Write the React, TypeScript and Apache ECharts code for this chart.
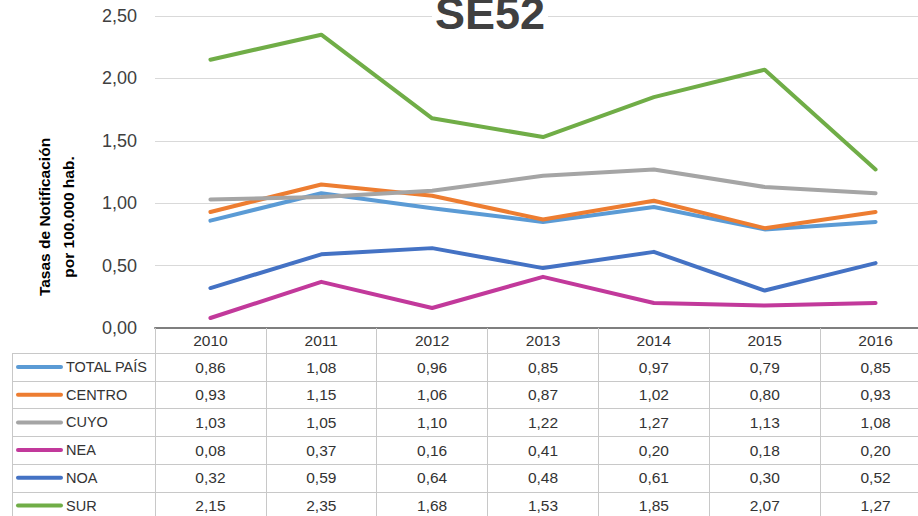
import React, { useEffect, useRef } from "react";
import * as echarts from "echarts";

const years = ["2010", "2011", "2012", "2013", "2014", "2015", "2016"];
const seriesNames = ["TOTAL PAÍS", "CENTRO", "CUYO", "NEA", "NOA", "SUR"];
const totalPais = [0.86, 1.08, 0.96, 0.85, 0.97, 0.79, 0.85];
const centro = [0.93, 1.15, 1.06, 0.87, 1.02, 0.8, 0.93];
const cuyo = [1.03, 1.05, 1.1, 1.22, 1.27, 1.13, 1.08];
const nea = [0.08, 0.37, 0.16, 0.41, 0.2, 0.18, 0.2];
const noa = [0.32, 0.59, 0.64, 0.48, 0.61, 0.3, 0.52];
const sur = [2.15, 2.35, 1.68, 1.53, 1.85, 2.07, 1.27];
const seriesColors = ["#5b9bd5", "#ed7d31", "#a5a5a5", "#c2399b", "#4472c4", "#70ad47"];
const title = "SE52";
const yAxisTitle = "Tasas de Notificación\npor 100.000 hab.";

const FONT = "'Liberation Sans', Arial, sans-serif";

const fmt = (v: number) => v.toFixed(2).replace(".", ",");

export default function App() {
  const ref = useRef<HTMLDivElement>(null);
  useEffect(() => {
    if (!ref.current) return;
    const chart = echarts.init(ref.current, undefined, { renderer: "svg" });
    const allData = [totalPais, centro, cuyo, nea, noa, sur];

    const axisTop = 328;
    const rowStep = 27.7;
    const firstRowCenter = 367;
    const labelMargin = 4;
    const lh = 16;

    const xAxes: any[] = [
      {
        type: "category",
        gridIndex: 0,
        position: "bottom",
        data: years,
        boundaryGap: true,
        axisLine: { show: true, lineStyle: { color: "#7f7f7f", width: 2 } },
        axisTick: {
          show: true,
          interval: 0,
          alignWithLabel: false,
          length: 200,
          lineStyle: { color: "#c8c8c8", width: 1 },
        },
        axisLabel: {
          interval: 0,
          margin: labelMargin,
          fontSize: 15.5,
          lineHeight: lh,
          color: "#333",
          fontFamily: FONT,
        },
        splitLine: { show: false },
      },
    ];
    allData.forEach((arr, k) => {
      const center = firstRowCenter + rowStep * k;
      xAxes.push({
        type: "category",
        gridIndex: 0,
        position: "bottom",
        offset: center - (axisTop + labelMargin + lh / 2),
        data: years,
        boundaryGap: true,
        axisLine: { show: false },
        axisTick: { show: false },
        splitLine: { show: false },
        axisLabel: {
          interval: 0,
          margin: labelMargin,
          fontSize: 15.5,
          lineHeight: lh,
          color: "#333",
          fontFamily: FONT,
          formatter: (_v: string, idx: number) => fmt(arr[idx]),
        },
      });
    });

    const graphics: any[] = [];
    for (let i = 0; i < 6; i++) {
      const y = Math.round(353 + rowStep * i) + 0.5;
      graphics.push({
        type: "line",
        shape: { x1: 12, y1: y, x2: 940, y2: y },
        style: { stroke: "#c8c8c8", lineWidth: 1 },
        silent: true,
      });
    }
    graphics.push({
      type: "line",
      shape: { x1: 12.5, y1: 353, x2: 12.5, y2: 530 },
      style: { stroke: "#c8c8c8", lineWidth: 1 },
      silent: true,
    });
    seriesNames.forEach((name, k) => {
      const cy = firstRowCenter + rowStep * k;
      graphics.push({
        type: "line",
        shape: { x1: 18, y1: cy, x2: 61, y2: cy },
        style: { stroke: seriesColors[k], lineWidth: 4, lineCap: "round" },
        silent: true,
      });
      graphics.push({
        type: "text",
        x: 66,
        y: cy,
        style: {
          text: name,
          font: `14.5px ${FONT}`,
          fill: "#333",
          textAlign: "left",
          textVerticalAlign: "middle",
        },
        silent: true,
      });
    });
    graphics.push({
      type: "text",
      x: 56,
      y: 217,
      rotation: Math.PI / 2,
      style: {
        text: yAxisTitle,
        font: `bold 15.5px ${FONT}`,
        lineHeight: 24,
        fill: "#000",
        textAlign: "center",
        textVerticalAlign: "middle",
      },
      silent: true,
    });
    graphics.push({
      type: "text",
      x: 490,
      y: 13,
      z: 100,
      style: {
        text: title,
        font: `bold 45px ${FONT}`,
        fill: "#404040",
        textAlign: "center",
        textVerticalAlign: "middle",
        backgroundColor: "#fff",
        padding: [0, 3],
      },
      silent: true,
    });

    chart.setOption({
      animation: false,
      backgroundColor: "#fff",
      grid: { left: 155, right: 0, top: 16, bottom: 516 - axisTop, containLabel: false },
      xAxis: xAxes,
      yAxis: {
        type: "value",
        min: 0,
        max: 2.5,
        interval: 0.5,
        axisLine: { show: false },
        axisTick: { show: false },
        axisLabel: {
          margin: 18,
          fontSize: 18,
          color: "#404040",
          fontFamily: FONT,
          formatter: (v: number) => fmt(v),
        },
        splitLine: { show: true, lineStyle: { color: "#d9d9d9", width: 1 } },
      },
      series: allData.map((arr, k) => ({
        type: "line",
        name: seriesNames[k],
        xAxisIndex: 0,
        data: arr,
        symbol: "none",
        lineStyle: { color: seriesColors[k], width: 4, cap: "round", join: "round" },
        itemStyle: { color: seriesColors[k] },
      })),
      graphic: graphics,
    });
    return () => chart.dispose();
  }, []);

  return (
    <div style={{ position: "absolute", left: 0, top: 0, width: 918, height: 516, overflow: "hidden", background: "#fff" }}>
      <div ref={ref} style={{ width: 931, height: 516 }} />
    </div>
  );
}
